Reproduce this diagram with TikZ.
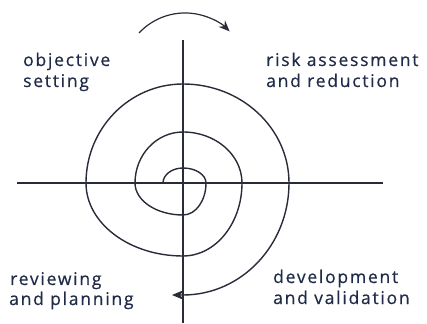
\documentclass[tikz,border=0pt]{standalone}
\usepackage{fontspec}
\setmainfont{Open Sans}
\newfontfamily\quadfont{Open Sans}[LetterSpace=10, FakeBold=0.5]
\usetikzlibrary{arrows.meta}
\definecolor{inkline}{HTML}{2A2B38}
\definecolor{inktext}{HTML}{1F2B48}
\tikzset{
  axisline/.style={draw=inkline, line width=1.4pt},
  spiralline/.style={draw=inkline, line width=1.4pt},
  label/.style={anchor=base west, inner sep=0pt, text=inktext, font=\quadfont\fontsize{17.5}{21}\selectfont},
}
\begin{document}
\begin{tikzpicture}[x=1pt, y=1pt]
  \useasboundingbox (0,0) rectangle (427,323);
  % axes
  \coordinate (vtop) at (183,283);
  \coordinate (vbot) at (183,0);
  \coordinate (hleft) at (17,140);
  \coordinate (hright) at (383,140);
  \draw[axisline] (vtop) -- (vbot);
  \draw[axisline] (hleft) -- (hright);
  % spiral built from quarter ellipses around the origin
  \coordinate (sstart) at (163,140);
  \coordinate (send) at (172,28);
  \draw[spiralline, -{Stealth[length=12pt, width=10pt]}] (sstart)
    arc[start angle=180, end angle=90, x radius=20, y radius=15]
    arc[start angle=90, end angle=0, x radius=23, y radius=15]
    arc[start angle=0, end angle=-90, x radius=23, y radius=32]
    arc[start angle=-90, end angle=-180, x radius=48, y radius=32]
    arc[start angle=180, end angle=90, x radius=48, y radius=51]
    arc[start angle=90, end angle=0, x radius=59, y radius=51]
    arc[start angle=0, end angle=-90, x radius=59, y radius=73]
    arc[start angle=-90, end angle=-180, x radius=97, y radius=73]
    arc[start angle=180, end angle=90, x radius=97, y radius=99]
    arc[start angle=90, end angle=0, x radius=106, y radius=99]
    arc[start angle=0, end angle=-90, x radius=106, y radius=112]
    -- (send);
  % direction arrow above
  \coordinate (dstart) at (139,290);
  \draw[draw=inkline, line width=1.2pt, -{Stealth[length=11pt, width=9pt]}] (dstart)
    arc[start angle=137, end angle=45, radius=63];
  % quadrant labels
  \node[label] (obj1) at (23,257) {objective};
  \node[label] (obj2) at (23,236) {setting};
  \node[label] (risk1) at (266,257) {risk assessment};
  \node[label] (risk2) at (266,236) {and reduction};
  \node[label] (rev1) at (10,38) {reviewing};
  \node[label] (rev2) at (9,18) {and planning};
  \node[label] (dev1) at (273,40) {development};
  \node[label] (dev2) at (273,19) {and validation};
\end{tikzpicture}
\end{document}
